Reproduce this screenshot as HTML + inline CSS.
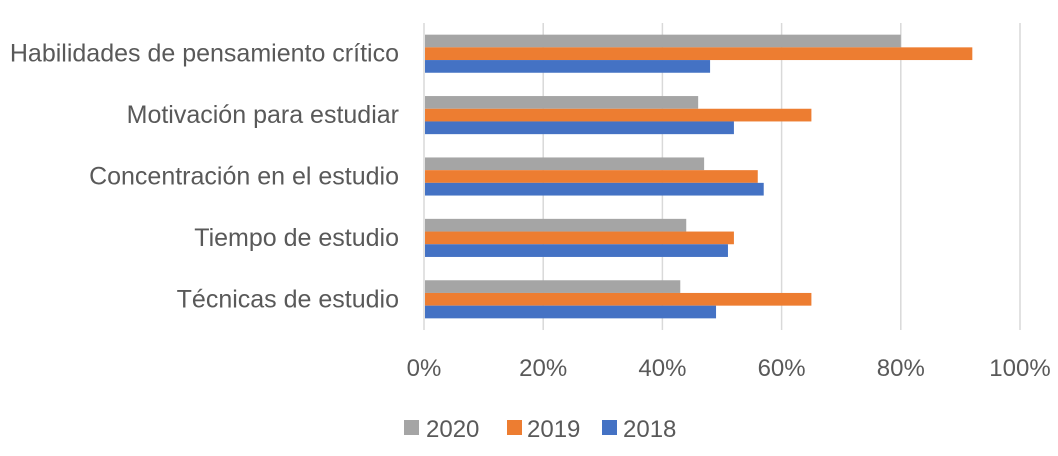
<!DOCTYPE html>
<html><head><meta charset="utf-8"><style>
body{margin:0;background:#fff;}
svg text{font-family:"Liberation Sans",sans-serif;fill:#595959;}
</style></head><body>
<svg width="1058" height="451" xmlns="http://www.w3.org/2000/svg">
<g id="grid"></g><g id="bars"></g><g id="labels"></g>
<g>
<rect x="404" y="420" width="15" height="15" fill="#a5a5a5"/>
<text x="426" y="437" font-size="24">2020</text>
<rect x="507" y="420" width="15" height="15" fill="#ed7d31"/>
<text x="527" y="437" font-size="24">2019</text>
<rect x="602" y="420" width="15" height="15" fill="#4472c4"/>
<text x="623" y="437" font-size="24">2018</text>
</g>
</svg>
<script>
const categories=["Habilidades de pensamiento crítico","Motivación para estudiar","Concentración en el estudio","Tiempo de estudio","Técnicas de estudio"];
const s2020=[80,46,47,44,43];
const s2019=[92,65,56,52,65];
const s2018=[48,52,57,51,49];
const ticks=[0,20,40,60,80,100];
const series=[{n:"2020",v:s2020,c:"#a5a5a5"},{n:"2019",v:s2019,c:"#ed7d31"},{n:"2018",v:s2018,c:"#4472c4"}];
const NS="http://www.w3.org/2000/svg";
const X0=424,X1=1020,YT=23,YB=330;
const xs=v=>X0+(X1-X0)*v/100;
const band=(YB-YT)/categories.length, bh=12.7;
const grid=document.getElementById('grid'),bars=document.getElementById('bars'),labels=document.getElementById('labels');
ticks.forEach(t=>{
 const l=document.createElementNS(NS,'line');
 l.setAttribute('x1',xs(t));l.setAttribute('x2',xs(t));l.setAttribute('y1',YT);l.setAttribute('y2',YB);
 l.setAttribute('stroke','#d9d9d9');l.setAttribute('stroke-width','1.5');
 
 
 grid.appendChild(l);
 const tx=document.createElementNS(NS,'text');
 tx.setAttribute('x',xs(t));tx.setAttribute('y',376);tx.setAttribute('font-size','24');tx.setAttribute('text-anchor','middle');
 tx.textContent=t+'%';
 
 
 labels.appendChild(tx);
});
categories.forEach((c,i)=>{
 const cy=YT+band*(i+0.5);
 series.forEach((s,j)=>{
  const r=document.createElementNS(NS,'rect');
  r.setAttribute('x',X0+1);r.setAttribute('y',cy-1.5*bh+j*bh);
  r.setAttribute('width',xs(s.v[i])-X0-1);r.setAttribute('height',bh);r.setAttribute('fill',s.c);
  
  
  bars.appendChild(r);
 });
 const t=document.createElementNS(NS,'text');
 t.setAttribute('x',399);t.setAttribute('y',cy+8);t.setAttribute('font-size','25');t.setAttribute('text-anchor','end');
 t.textContent=c;
 
 
 labels.appendChild(t);
});
</script>
</body></html>
